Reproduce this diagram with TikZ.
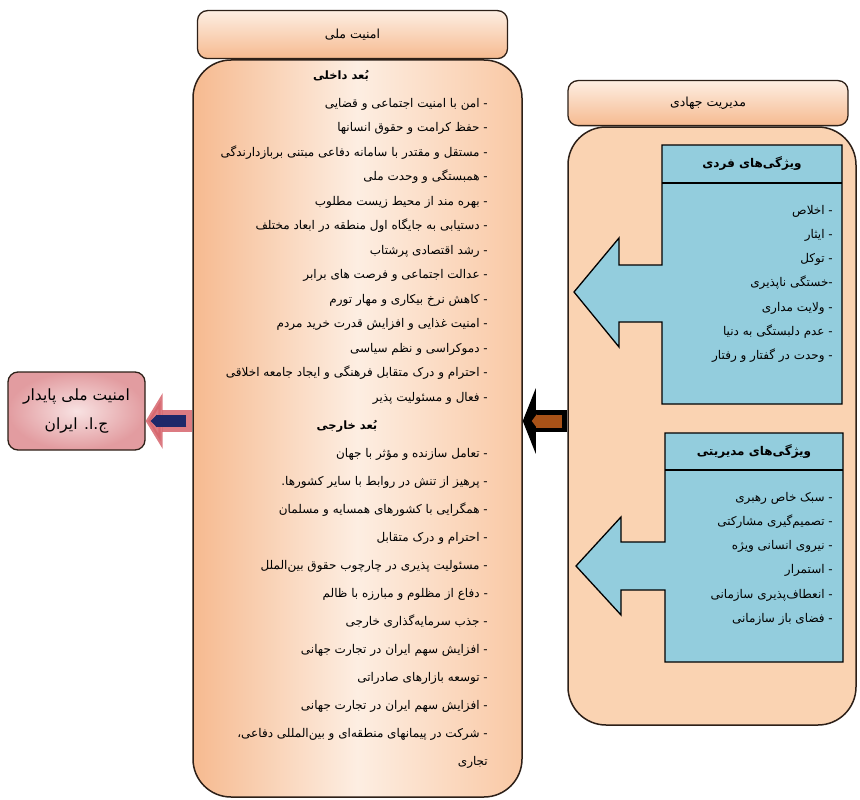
\documentclass[tikz,border=0pt]{standalone}
\usepackage{fontspec}
\newfontfamily\farsi[Script=Arabic]{DejaVu Sans}
\TeXXeTstate=1
\usetikzlibrary{shapes, arrows.meta, positioning}
\newcommand{\fatxt}[1]{\beginR #1\endR}

\definecolor{peach}{RGB}{250,211,178}
\definecolor{peachdark}{RGB}{246,186,144}
\definecolor{peachmid}{RGB}{249,200,164}
\definecolor{peachlight}{RGB}{253,238,226}
\definecolor{skyblue}{RGB}{147,205,221}
\definecolor{rose}{RGB}{226,156,160}
\definecolor{roselight}{RGB}{248,226,226}
\definecolor{edge}{RGB}{45,32,24}
\definecolor{navy}{RGB}{30,40,105}
\definecolor{rust}{RGB}{168,82,24}
\definecolor{redarrow}{RGB}{214,100,108}

\begin{document}
\begin{tikzpicture}[x=1pt, y=-1pt, font=\farsi]
        \tikzstyle{tabbox} = [rectangle, rounded corners=10pt, draw=edge, line width=1.3pt, top color=peachlight, bottom color=peachdark, inner sep=0pt, font=\farsi\fontsize{12.5}{14}\selectfont]
        \tikzstyle{bodybox} = [rectangle, rounded corners=38pt, draw=edge, line width=1.5pt]
        \tikzstyle{goalbox} = [rectangle, rounded corners=10pt, draw=edge, line width=1.3pt, inner color=roselight, outer color=rose, align=center, font=\farsi\fontsize{15.5}{29}\selectfont]
        \tikzstyle{bluebox} = [fill=skyblue, draw=black, line width=1.3pt]
        \tikzstyle{headtext} = [inner sep=0pt, font=\farsi\bfseries\fontsize{11.5}{13}\selectfont]
        \tikzstyle{bluehead} = [inner sep=0pt, font=\farsi\bfseries\fontsize{12}{14}\selectfont]
        \tikzstyle{listtext} = [inner sep=0pt, align=right, anchor=north east]

        \useasboundingbox (0,0) rectangle (860,800);
        \coordinate (ay) at (0,421);

        % middle column
        \node (mbody) [bodybox, left color=peachdark, right color=peachmid, middle color=peachlight, minimum width=329pt, minimum height=737pt] at (357.5,428.5) {};
        \node (mtab) [tabbox, minimum width=310pt, minimum height=48pt, above=0pt of mbody, xshift=-5pt] {\fatxt{امنیت ملی}};
        \node (inner) [headtext] at (341,76) {\fatxt{بُعد داخلی}};
        \node (dom) [listtext, font=\farsi\fontsize{12}{24.5}\selectfont] at (488,98) {%
            \fatxt{- امن با امنیت اجتماعی و قضایی}\\
            \fatxt{- حفظ کرامت و حقوق انسانها}\\
            \fatxt{- مستقل و مقتدر با سامانه دفاعی مبتنی بربازدارندگی}\\
            \fatxt{- همبستگی و وحدت ملی}\\
            \fatxt{- بهره مند از محیط زیست مطلوب}\\
            \fatxt{- دستیابی به جایگاه اول منطقه در ابعاد مختلف}\\
            \fatxt{- رشد اقتصادی پرشتاب}\\
            \fatxt{- عدالت اجتماعی و فرصت های برابر}\\
            \fatxt{- کاهش نرخ بیکاری و مهار تورم}\\
            \fatxt{- امنیت غذایی و افزایش قدرت خرید مردم}\\
            \fatxt{- دموکراسی و نظم سیاسی}\\
            \fatxt{- احترام و درک متقابل فرهنگی و ایجاد جامعه اخلاقی}\\
            \fatxt{- فعال و مسئولیت پذیر}};
        \node (outer) [headtext] at (347,426) {\fatxt{بُعد خارجی}};
        \node (for) [listtext, font=\farsi\fontsize{12}{28}\selectfont] at (488,448) {%
            \fatxt{- تعامل سازنده و مؤثر با جهان}\\
            \fatxt{- پرهیز از تنش در روابط با سایر کشورها.}\\
            \fatxt{- همگرایی با کشورهای همسایه و مسلمان}\\
            \fatxt{- احترام و درک متقابل}\\
            \fatxt{- مسئولیت پذیری در چارچوب حقوق بین^^^^200cالملل}\\
            \fatxt{- دفاع از مظلوم و مبارزه با ظالم}\\
            \fatxt{- جذب سرمایه^^^^200cگذاری خارجی}\\
            \fatxt{- افزایش سهم ایران در تجارت جهانی}\\
            \fatxt{- توسعه بازارهای صادراتی}\\
            \fatxt{- افزایش سهم ایران در تجارت جهانی}\\
            \fatxt{- شرکت در پیمانهای منطقه^^^^200cای و بین^^^^200cالمللی دفاعی،}\\
            \fatxt{تجاری}};

        % right column
        \node (rbody) [bodybox, fill=peach, minimum width=288pt, minimum height=598pt] at (712,426) {};
        \node (rtab) [tabbox, minimum width=280pt, minimum height=45pt, above=0pt of rbody, xshift=-4pt] {\fatxt{مدیریت جهادی}};

        \draw[bluebox] (842,145) -- (662,145) -- (662,265) -- (619,265) -- (619,238) -- (574,292) -- (619,347) -- (619,322) -- (662,322) -- (662,404) -- (842,404) -- cycle;
        \draw[line width=1.3pt] (662,183) -- (842,183);
        \node (pers) [bluehead] at (752,164) {\fatxt{ویژگی^^^^200cهای فردی}};
        \node (perslist) [listtext, font=\farsi\fontsize{12}{24.2}\selectfont] at (833,205) {%
            \fatxt{- اخلاص}\\
            \fatxt{- ایثار}\\
            \fatxt{- توکل}\\
            \fatxt{-خستگی ناپذیری}\\
            \fatxt{- ولایت مداری}\\
            \fatxt{- عدم دلبستگی به دنیا}\\
            \fatxt{- وحدت در گفتار و رفتار}};

        \draw[bluebox] (843,433) -- (665,433) -- (665,542) -- (621,542) -- (621,517) -- (576,566) -- (621,615) -- (621,590) -- (665,590) -- (665,662) -- (843,662) -- cycle;
        \draw[line width=1.3pt] (665,470) -- (843,470);
        \node (mgmt) [bluehead] at (754,452) {\fatxt{ویژگی^^^^200cهای مدیریتی}};
        \node (mgmtlist) [listtext, font=\farsi\fontsize{12}{24.2}\selectfont] at (833,492) {%
            \fatxt{- سبک خاص رهبری}\\
            \fatxt{- تصمیم^^^^200cگیری مشارکتی}\\
            \fatxt{- نیروی  انسانی ویژه}\\
            \fatxt{- استمرار}\\
            \fatxt{- انعطاف^^^^200cپذیری سازمانی}\\
            \fatxt{- فضای باز سازمانی}};

        % goal
        \node (goal) [goalbox, minimum width=137pt, minimum height=78pt] at (76.5,411) {\fatxt{امنیت ملی پایدار}\\\fatxt{ج.ا. ایران}};

        % arrows
        \draw[black, line width=22pt, -{Triangle[length=13pt 0 0, width=65pt 0 0]}] (rbody.west |- ay) -- (mbody.east |- ay);
        \draw[rust, line width=13pt, shorten <=5pt, shorten >=9pt, -{Triangle[length=5pt 0 0, width=13pt 0 0]}] (rbody.west |- ay) -- (mbody.east |- ay);
        \draw[redarrow, opacity=.85, line width=22pt, -{Triangle[length=17pt 0 0, width=55pt 0 0]}] (mbody.west |- ay) -- (goal.east |- ay);
        \draw[navy, line width=12pt, shorten <=6pt, shorten >=5pt, -{Triangle[length=6pt 0 0, width=12pt 0 0]}] (mbody.west |- ay) -- (goal.east |- ay);
\end{tikzpicture}
\end{document}
